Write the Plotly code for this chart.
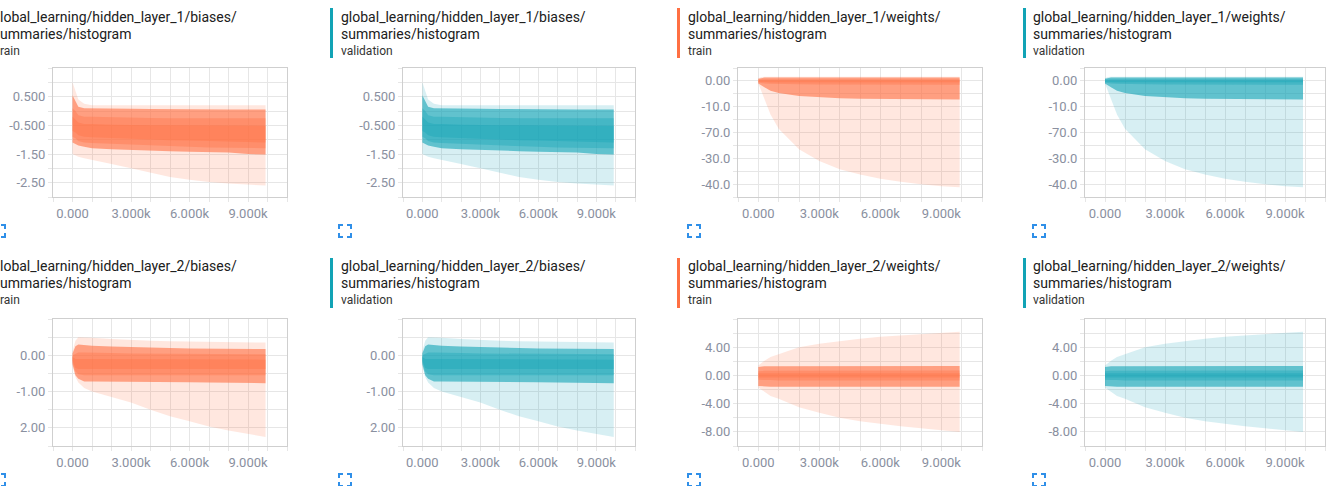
import plotly.graph_objects as go

W, H = 1336, 486

# ---------------- data ----------------
STEPS = [0, 150, 300, 600, 1000, 2000, 3000, 4000, 5000, 6000, 7000, 8000, 9000, 9900]

# hidden_layer_1/biases  (percentiles: max, 93, 84, 69, 50, 31, 16, 7, min)
L1B_MAX = [1.00, 0.70, 0.40, 0.25, 0.20, 0.20, 0.20, 0.20, 0.20, 0.20, 0.20, 0.20, 0.20, 0.20]
L1B_P93 = [0.55, 0.35, 0.15, 0.10, 0.10, 0.08, 0.08, 0.07, 0.06, 0.05, 0.05, 0.05, 0.05, 0.05]
L1B_P84 = [0.10, 0.00, -0.15, -0.20, -0.20, -0.22, -0.23, -0.24, -0.25, -0.25, -0.25, -0.25, -0.25, -0.25]
L1B_P69 = [-0.20, -0.30, -0.40, -0.45, -0.45, -0.48, -0.50, -0.50, -0.50, -0.50, -0.50, -0.52, -0.52, -0.52]
L1B_P50 = [-0.45, -0.55, -0.65, -0.70, -0.72, -0.75, -0.78, -0.80, -0.80, -0.82, -0.83, -0.84, -0.85, -0.85]
L1B_P31 = [-0.70, -0.75, -0.85, -0.90, -0.92, -0.95, -0.97, -1.00, -1.02, -1.03, -1.05, -1.06, -1.08, -1.10]
L1B_P16 = [-0.90, -0.95, -1.05, -1.10, -1.12, -1.15, -1.18, -1.20, -1.23, -1.25, -1.27, -1.28, -1.30, -1.30]
L1B_P07 = [-1.10, -1.15, -1.20, -1.25, -1.30, -1.33, -1.36, -1.38, -1.40, -1.42, -1.43, -1.45, -1.50, -1.52]
L1B_MIN = [-1.50, -1.55, -1.60, -1.65, -1.70, -1.85, -2.00, -2.15, -2.30, -2.40, -2.48, -2.53, -2.57, -2.60]

# hidden_layer_1/weights
L1W_MAX = [1.0, 1.5, 1.6, 1.6, 1.6, 1.6, 1.6, 1.6, 1.6, 1.6, 1.6, 1.6, 1.6, 1.6]
L1W_P93 = [0.8, 1.2, 1.3, 1.3, 1.3, 1.3, 1.3, 1.3, 1.3, 1.3, 1.3, 1.3, 1.3, 1.3]
L1W_P84 = [0.5, 0.6, 0.6, 0.6, 0.6, 0.6, 0.6, 0.6, 0.6, 0.6, 0.6, 0.6, 0.6, 0.6]
L1W_P69 = [0.2, 0.2, 0.2, 0.2, 0.2, 0.2, 0.2, 0.2, 0.2, 0.2, 0.2, 0.2, 0.2, 0.2]
L1W_P50 = [0.0, -0.1, -0.1, -0.1, -0.1, -0.1, -0.1, -0.1, -0.1, -0.1, -0.1, -0.1, -0.1, -0.1]
L1W_P31 = [-0.3, -0.4, -0.5, -0.5, -0.5, -0.5, -0.5, -0.5, -0.5, -0.5, -0.5, -0.5, -0.5, -0.5]
L1W_P16 = [-0.6, -0.9, -1.0, -1.1, -1.2, -1.3, -1.4, -1.4, -1.5, -1.5, -1.5, -1.5, -1.5, -1.5]
L1W_P07 = [-1.0, -1.8, -2.5, -3.8, -4.7, -5.9, -6.4, -6.7, -6.9, -7.0, -7.0, -7.1, -7.1, -7.2]
L1W_MIN = [-1.0, -4.0, -7.5, -13.0, -18.5, -26.5, -31.0, -34.2, -36.3, -37.9, -39.1, -40.1, -40.8, -41.2]

# hidden_layer_2/biases
L2B_MAX = [0.10, 0.40, 0.50, 0.50, 0.48, 0.45, 0.42, 0.40, 0.39, 0.38, 0.37, 0.36, 0.35, 0.35]
L2B_P93 = [0.05, 0.25, 0.30, 0.28, 0.26, 0.24, 0.22, 0.21, 0.20, 0.19, 0.18, 0.17, 0.17, 0.17]
L2B_P84 = [0.00, 0.05, 0.08, 0.08, 0.07, 0.06, 0.05, 0.05, 0.04, 0.04, 0.03, 0.03, 0.03, 0.03]
L2B_P69 = [-0.05, -0.10, -0.10, -0.10, -0.11, -0.11, -0.11, -0.12, -0.12, -0.12, -0.12, -0.12, -0.12, -0.12]
L2B_P50 = [-0.10, -0.25, -0.25, -0.25, -0.25, -0.25, -0.25, -0.25, -0.25, -0.25, -0.25, -0.25, -0.25, -0.25]
L2B_P31 = [-0.15, -0.35, -0.38, -0.38, -0.38, -0.38, -0.38, -0.38, -0.38, -0.38, -0.38, -0.38, -0.38, -0.38]
L2B_P16 = [-0.20, -0.45, -0.52, -0.55, -0.55, -0.55, -0.55, -0.55, -0.55, -0.55, -0.55, -0.55, -0.55, -0.55]
L2B_P07 = [-0.25, -0.55, -0.65, -0.72, -0.72, -0.72, -0.73, -0.73, -0.74, -0.74, -0.75, -0.75, -0.76, -0.77]
L2B_MIN = [-0.30, -0.60, -0.75, -0.90, -1.00, -1.15, -1.30, -1.50, -1.68, -1.82, -1.96, -2.07, -2.17, -2.25]

# hidden_layer_2/weights
L2W_MAX = [1.4, 1.8, 2.1, 2.6, 3.0, 4.0, 4.5, 4.9, 5.2, 5.5, 5.7, 5.9, 6.1, 6.2]
L2W_P93 = [1.2, 1.3, 1.3, 1.3, 1.3, 1.35, 1.35, 1.35, 1.35, 1.35, 1.35, 1.35, 1.35, 1.35]
L2W_P84 = [0.6, 0.65, 0.65, 0.65, 0.65, 0.7, 0.7, 0.7, 0.7, 0.7, 0.7, 0.7, 0.7, 0.7]
L2W_P69 = [0.3, 0.3, 0.3, 0.3, 0.3, 0.3, 0.3, 0.3, 0.3, 0.3, 0.3, 0.3, 0.3, 0.3]
L2W_P50 = [0.0, 0.0, 0.0, 0.0, 0.0, 0.0, 0.0, 0.0, 0.0, 0.0, 0.0, 0.0, 0.0, 0.0]
L2W_P31 = [-0.3, -0.3, -0.3, -0.3, -0.3, -0.3, -0.3, -0.3, -0.3, -0.3, -0.3, -0.3, -0.3, -0.3]
L2W_P16 = [-0.6, -0.65, -0.65, -0.65, -0.7, -0.7, -0.7, -0.7, -0.7, -0.7, -0.7, -0.7, -0.7, -0.7]
L2W_P07 = [-1.5, -1.55, -1.6, -1.6, -1.6, -1.6, -1.6, -1.6, -1.6, -1.6, -1.6, -1.6, -1.6, -1.6]
L2W_MIN = [-1.7, -2.0, -2.3, -2.9, -3.3, -4.5, -5.3, -6.0, -6.5, -6.9, -7.2, -7.5, -7.8, -8.0]

X_TICK_STEPS = [0, 3000, 6000, 9000]
X_TICK_LABELS = ["0.000", "3.000k", "6.000k", "9.000k"]

L1B_TICK_VALUES = [0.5, -0.5, -1.5, -2.5]
L1B_TICK_LABELS = ["0.500", "-0.500", "-1.50", "-2.50"]
L1W_TICK_VALUES = [0, -10, -20, -30, -40]
L1W_TICK_LABELS = ["0.00", "-10.0", "-70.0", "-30.0", "-40.0"]
L2B_TICK_VALUES = [0, -1, -2]
L2B_TICK_LABELS = ["0.00", "-1.00", "2.00"]
L2W_TICK_VALUES = [4, 0, -4, -8]
L2W_TICK_LABELS = ["4.00", "0.00", "-4.00", "-8.00"]

TAGS = ["global_learning/hidden_layer_1/biases/", "global_learning/hidden_layer_1/weights/",
        "global_learning/hidden_layer_2/biases/", "global_learning/hidden_layer_2/weights/"]
SUBTAG = "summaries/histogram"
RUNS = ["train", "validation"]
# the left column is cropped by the screenshot edge: only these parts are visible
LEFT_COL_TAGS = ["lobal_learning/hidden_layer_1/biases/", "lobal_learning/hidden_layer_2/biases/"]
LEFT_COL_SUBTAG = "ummaries/histogram"
LEFT_COL_RUN = "rain"

# ---------------- styling / layout ----------------
RUN_COLORS = {"train": (255, 112, 67), "validation": (18, 163, 181)}
BAND_ALPHAS = [0.17, 0.6, 0.35, 0.35]
GRID = "#e6e6e6"
AXLINE = "#cfcfcf"
TICKFONT = dict(family="Roboto, sans-serif", size=13, color="#8a90a0")
TITLEFONT = dict(family="Roboto, sans-serif", size=14, color="#202020")
RUNFONT = dict(family="Roboto, sans-serif", size=12, color="#333333")

COL_X = [(53, 287), (403, 635), (738, 982), (1085, 1325)]
ROW_Y = [(68, 197), (319, 446)]
TITLE_X = [0, 340, 687, 1032]
BAR_X = [-18, 330, 677, 1023]
ICON_X = [-7, 339, 688, 1033]
ROW_TITLE_Y = [(17, 34, 51), (266, 283, 300)]
ROW_BAR_Y = [(8, 58), (258, 308)]
ICON_Y = [225, 474]


def px(x):
    return x / W


def py(y):
    return 1 - y / H


DATA = {
    "L1B": [L1B_MIN, L1B_P07, L1B_P16, L1B_P31, L1B_P50, L1B_P69, L1B_P84, L1B_P93, L1B_MAX],
    "L1W": [L1W_MIN, L1W_P07, L1W_P16, L1W_P31, L1W_P50, L1W_P69, L1W_P84, L1W_P93, L1W_MAX],
    "L2B": [L2B_MIN, L2B_P07, L2B_P16, L2B_P31, L2B_P50, L2B_P69, L2B_P84, L2B_P93, L2B_MAX],
    "L2W": [L2W_MIN, L2W_P07, L2W_P16, L2W_P31, L2W_P50, L2W_P69, L2W_P84, L2W_P93, L2W_MAX],
}
YCFG = {
    "L1B": dict(rng=[-3.0, 1.5], grid=0.5, vals=L1B_TICK_VALUES, text=L1B_TICK_LABELS),
    "L1W": dict(rng=[-45, 5], grid=5, vals=L1W_TICK_VALUES, text=L1W_TICK_LABELS),
    "L2B": dict(rng=[-2.5, 1.0], grid=0.5, vals=L2B_TICK_VALUES, text=L2B_TICK_LABELS),
    "L2W": dict(rng=[-10, 8], grid=2, vals=L2W_TICK_VALUES, text=L2W_TICK_LABELS),
}
PANELS = [
    ("L1B", 0, "train"), ("L1B", 0, "validation"),
    ("L1W", 1, "train"), ("L1W", 1, "validation"),
    ("L2B", 2, "train"), ("L2B", 2, "validation"),
    ("L2W", 3, "train"), ("L2W", 3, "validation"),
]

fig = go.Figure()
annotations = []
shapes = []
layout_axes = {}

x_grid = list(range(-1000, 11001, 1000))
x_text = [X_TICK_LABELS[X_TICK_STEPS.index(v)] if v in X_TICK_STEPS else "" for v in x_grid]

for i, (key, tag_i, run) in enumerate(PANELS):
    n = i + 1
    r, c = divmod(i, 4)
    xs = "x" if n == 1 else f"x{n}"
    ys = "y" if n == 1 else f"y{n}"
    rgb = RUN_COLORS[run]
    pct = DATA[key]
    for b in range(4):
        lo, hi = pct[b], pct[8 - b]
        fill = f"rgba({rgb[0]},{rgb[1]},{rgb[2]},{BAND_ALPHAS[b]})"
        fig.add_trace(go.Scatter(x=STEPS, y=lo, mode="lines", line=dict(width=0),
                                 xaxis=xs, yaxis=ys, showlegend=False, hoverinfo="skip"))
        fig.add_trace(go.Scatter(x=STEPS, y=hi, mode="lines", line=dict(width=0),
                                 fill="tonexty", fillcolor=fill,
                                 xaxis=xs, yaxis=ys, showlegend=False, hoverinfo="skip"))

    cfg = YCFG[key]
    g = cfg["grid"]
    lo_r, hi_r = cfg["rng"]
    y_grid = [round(k * g, 6) for k in range(round(lo_r / g), round(hi_r / g) + 1)]
    y_text = []
    for v in y_grid:
        match = [t for tv, t in zip(cfg["vals"], cfg["text"]) if abs(tv - v) < 1e-9]
        y_text.append(match[0] if match else "")

    x0, x1 = COL_X[c]
    y0, y1 = ROW_Y[r]
    xname = "xaxis" if n == 1 else f"xaxis{n}"
    yname = "yaxis" if n == 1 else f"yaxis{n}"
    layout_axes[xname] = dict(
        domain=[px(x0), px(x1)], anchor=ys, range=[-1000, 11000],
        tickmode="array", tickvals=x_grid, ticktext=x_text,
        showgrid=True, gridcolor=GRID, gridwidth=1, zeroline=False,
        showline=True, linecolor=AXLINE, mirror=True,
        ticks="outside", ticklen=4, tickcolor=GRID, tickfont=TICKFONT,
    )
    layout_axes[yname] = dict(
        domain=[py(y1), py(y0)], anchor=xs, range=[lo_r, hi_r],
        tickmode="array", tickvals=y_grid, ticktext=y_text,
        showgrid=True, gridcolor=GRID, gridwidth=1, zeroline=False,
        showline=True, linecolor=AXLINE, mirror=True,
        ticks="outside", ticklen=4, tickcolor=GRID, tickfont=TICKFONT,
    )

    # title block
    if c == 0:
        lines = [LEFT_COL_TAGS[r], LEFT_COL_SUBTAG, LEFT_COL_RUN]
    else:
        lines = [TAGS[tag_i], SUBTAG, run]
    ty = ROW_TITLE_Y[r]
    tx = TITLE_X[c]
    fonts = [TITLEFONT, TITLEFONT, RUNFONT]
    for line, yy, fnt in zip(lines, ty, fonts):
        annotations.append(dict(x=px(tx), y=py(yy), xref="paper", yref="paper", xanchor="left",
                                yanchor="middle", text=line, showarrow=False, font=fnt,
                                borderpad=0, xshift=-1 if c == 0 else 0))
    bx = BAR_X[c]
    by = ROW_BAR_Y[r]
    shapes.append(dict(type="rect", xref="paper", yref="paper",
                       x0=px(bx), x1=px(bx + 3), y0=py(by[1]), y1=py(by[0]),
                       fillcolor=f"rgb({rgb[0]},{rgb[1]},{rgb[2]})", line=dict(width=0)))
    # fullscreen icon (corner brackets)
    ix0 = ICON_X[c]
    iy0 = ICON_Y[r]
    s, a = 12, 4
    corners = [
        [(ix0, iy0 + a), (ix0, iy0), (ix0 + a, iy0)],
        [(ix0 + s - a, iy0), (ix0 + s, iy0), (ix0 + s, iy0 + a)],
        [(ix0, iy0 + s - a), (ix0, iy0 + s), (ix0 + a, iy0 + s)],
        [(ix0 + s - a, iy0 + s), (ix0 + s, iy0 + s), (ix0 + s, iy0 + s - a)],
    ]
    for pts in corners:
        path = "M " + " L ".join(f"{px(p[0]):.6f},{py(p[1]):.6f}" for p in pts)
        shapes.append(dict(type="path", xref="paper", yref="paper", path=path,
                           line=dict(color="#2f8fe8", width=2)))

fig.update_layout(
    width=W, height=H, margin=dict(l=0, r=0, t=0, b=0),
    paper_bgcolor="white", plot_bgcolor="white",
    showlegend=False, annotations=annotations, shapes=shapes,
    **layout_axes,
)

fig.write_html("out.html")
